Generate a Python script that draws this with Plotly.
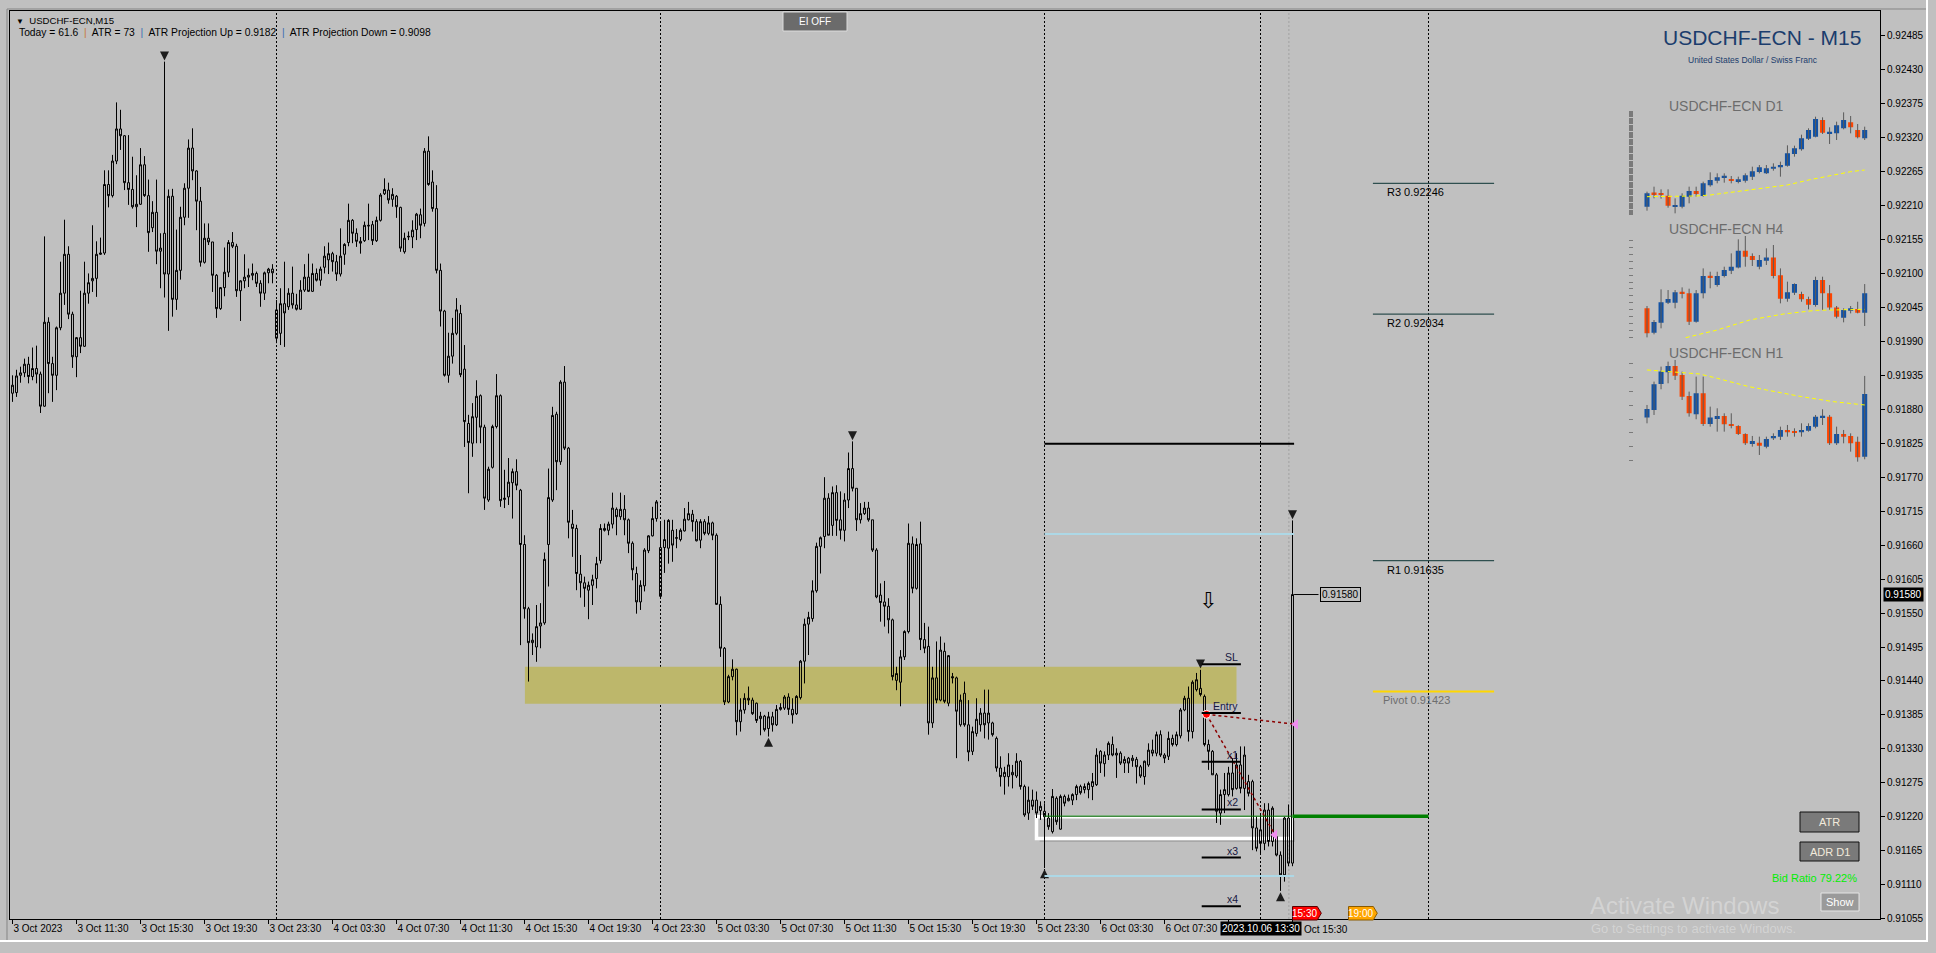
import numpy as np
import plotly.graph_objects as go

# ---------------- page / plot geometry ----------------
BG = "#c0c0c0"
W, H = 1936, 953
ML, MR, MT, MB = 10, 56, 11, 34
PW, PH = W - ML - MR, H - MT - MB
PT = 1e-5  # one point of price


def px(x):
    return (x - ML) / PW


def py(y):
    return (H - MB - y) / PH


# ---------------- USDCHF-ECN M15 bars (points, 1e-5) ----------------
# bar 0 = 3 Oct 2023 07:30, bar 320 = 6 Oct 2023 15:30
bar_open = [
    91906, 91907, 91935, 91939, 91953, 91933, 91946, 91937, 91885, 92021, 91954, 91935, 92012, 92068, 92131, 92034,
    91965, 91996, 91982, 92068, 92088, 92092, 92131, 92133, 92244, 92226, 92282, 92334, 92323, 92247, 92236, 92208,
    92212, 92276, 92226, 92174, 92199, 92136, 92165, 92099, 92225, 92058, 92105, 92191, 92238, 92303, 92266, 92217,
    92118, 92157, 92151, 92097, 92043, 92077, 92102, 92150, 92144, 92072, 92088, 92094, 92097, 92100, 92084, 92068,
    92101, 92107, 92041, 92003, 92051, 92046, 92068, 92049, 92042, 92073, 92094, 92071, 92100, 92089, 92110, 92122,
    92132, 92119, 92099, 92131, 92150, 92186, 92165, 92152, 92153, 92178, 92179, 92153, 92186, 92229, 92235, 92220,
    92225, 92207, 92135, 92159, 92159, 92171, 92195, 92181, 92298, 92248, 92205, 92105, 92039, 91935, 91966, 92003,
    92035, 91945, 91857, 91825, 91867, 91902, 91851, 91733, 91786, 91852, 91902, 91734, 91738, 91761, 91779, 91749,
    91661, 91557, 91502, 91495, 91529, 91534, 91661, 91733, 91872, 91795, 91924, 91817, 91694, 91687, 91613, 91599,
    91587, 91595, 91606, 91635, 91687, 91684, 91694, 91718, 91706, 91718, 91701, 91663, 91614, 91568, 91594, 91651,
    91675, 91703, 91656, 91656, 91655, 91684, 91671, 91669, 91683, 91701, 91710, 91698, 91668, 91698, 91679, 91696,
    91676, 91564, 91493, 91406, 91447, 91459, 91374, 91393, 91412, 91409, 91404, 91379, 91383, 91363, 91382, 91369,
    91394, 91396, 91414, 91394, 91387, 91413, 91472, 91532, 91541, 91586, 91658, 91674, 91736, 91692, 91745, 91701,
    91684, 91733, 91784, 91752, 91701, 91711, 91720, 91701, 91652, 91579, 91568, 91561, 91539, 91441, 91438, 91479,
    91520, 91662, 91590, 91662, 91507, 91496, 91372, 91445, 91409, 91488, 91404, 91447, 91445, 91369, 91420, 91369,
    91326, 91355, 91369, 91388, 91372, 91372, 91347, 91299, 91285, 91285, 91292, 91286, 91310, 91269, 91226, 91247,
    91247, 91230, 91229, 91218, 91196, 91250, 91200, 91253, 91246, 91247, 91256, 91269, 91264, 91264, 91269, 91272,
    91326, 91306, 91320, 91337, 91320, 91323, 91307, 91315, 91311, 91313, 91301, 91285, 91304, 91328, 91323, 91353,
    91320, 91318, 91347, 91337, 91351, 91393, 91412, 91358, 91426, 91428, 91415, 91337, 91326, 91288, 91226, 91256,
    91256, 91291, 91266, 91304, 91266, 91277, 91277, 91202, 91177, 91177, 91231, 91180, 91188, 91158, 91126, 91218,
    91145,
]
bar_high = [
    91935, 91944, 91949, 91962, 91965, 91980, 91983, 91941, 92160, 92029, 91965, 92014, 92119, 92187, 92144, 92038,
    91997, 92072, 92119, 92100, 92178, 92152, 92158, 92267, 92267, 92292, 92377, 92365, 92324, 92324, 92289, 92259,
    92303, 92290, 92252, 92217, 92252, 92165, 92443, 92236, 92237, 92171, 92208, 92246, 92317, 92335, 92267, 92240,
    92181, 92181, 92151, 92099, 92078, 92142, 92154, 92167, 92148, 92089, 92131, 92108, 92116, 92103, 92089, 92103,
    92109, 92115, 92057, 92076, 92119, 92076, 92111, 92067, 92089, 92115, 92132, 92116, 92108, 92111, 92144, 92150,
    92135, 92130, 92173, 92149, 92213, 92188, 92173, 92159, 92184, 92213, 92185, 92192, 92230, 92254, 92247, 92238,
    92227, 92208, 92166, 92168, 92186, 92198, 92205, 92303, 92322, 92267, 92243, 92116, 92041, 92004, 92028, 92060,
    92049, 91984, 91871, 91890, 91927, 91904, 91855, 91787, 91855, 91937, 91904, 91782, 91801, 91784, 91799, 91751,
    91676, 91560, 91517, 91563, 91566, 91648, 91784, 91884, 91876, 91927, 91950, 91819, 91717, 91693, 91644, 91609,
    91601, 91612, 91641, 91694, 91695, 91698, 91745, 91721, 91745, 91741, 91703, 91666, 91625, 91603, 91655, 91676,
    91722, 91733, 91698, 91701, 91702, 91701, 91686, 91687, 91720, 91730, 91717, 91702, 91702, 91702, 91707, 91698,
    91679, 91577, 91495, 91450, 91475, 91460, 91412, 91420, 91431, 91413, 91405, 91390, 91385, 91390, 91390, 91401,
    91404, 91417, 91420, 91412, 91417, 91474, 91541, 91552, 91603, 91664, 91674, 91770, 91744, 91755, 91757, 91747,
    91744, 91810, 91828, 91752, 91728, 91730, 91730, 91701, 91655, 91598, 91602, 91574, 91541, 91463, 91490, 91522,
    91695, 91674, 91671, 91698, 91534, 91528, 91463, 91504, 91512, 91502, 91482, 91453, 91447, 91418, 91439, 91409,
    91366, 91412, 91396, 91426, 91426, 91374, 91350, 91318, 91301, 91323, 91304, 91323, 91312, 91272, 91269, 91264,
    91261, 91245, 91242, 91226, 91265, 91253, 91256, 91256, 91256, 91258, 91272, 91272, 91274, 91277, 91291, 91331,
    91328, 91326, 91342, 91350, 91331, 91326, 91318, 91317, 91320, 91317, 91304, 91311, 91339, 91345, 91358, 91360,
    91323, 91358, 91353, 91358, 91396, 91416, 91431, 91441, 91453, 91458, 91418, 91345, 91328, 91291, 91264, 91291,
    91301, 91315, 91323, 91334, 91334, 91288, 91280, 91220, 91223, 91242, 91242, 91237, 91193, 91164, 91220, 91240,
    91700,
]
bar_low = [
    91892, 91900, 91923, 91932, 91922, 91927, 91922, 91874, 91884, 91906, 91892, 91911, 92008, 92049, 92026, 91947,
    91932, 91971, 91981, 92051, 92070, 92062, 92130, 92130, 92207, 92223, 92277, 92300, 92235, 92211, 92205, 92175,
    92211, 92224, 92135, 92167, 92115, 92076, 92061, 92007, 92030, 92041, 92090, 92178, 92190, 92251, 92170, 92111,
    92116, 92146, 92070, 92028, 92041, 92063, 92094, 92141, 92062, 92023, 92076, 92078, 92089, 92078, 92046, 92057,
    92084, 92084, 91987, 91984, 91981, 92041, 92043, 92040, 92041, 92070, 92070, 92070, 92087, 92080, 92100, 92099,
    92103, 92088, 92095, 92114, 92144, 92149, 92143, 92132, 92151, 92154, 92146, 92151, 92184, 92227, 92213, 92208,
    92190, 92135, 92132, 92154, 92141, 92154, 92157, 92176, 92242, 92200, 92100, 92014, 91933, 91923, 91954, 92000,
    91932, 91819, 91744, 91803, 91825, 91825, 91717, 91730, 91784, 91849, 91722, 91720, 91725, 91703, 91749, 91498,
    91541, 91439, 91482, 91471, 91493, 91531, 91593, 91730, 91749, 91790, 91814, 91671, 91641, 91587, 91575, 91560,
    91540, 91563, 91590, 91630, 91682, 91676, 91687, 91676, 91701, 91676, 91647, 91603, 91549, 91555, 91585, 91647,
    91674, 91698, 91576, 91615, 91630, 91633, 91655, 91666, 91682, 91700, 91682, 91666, 91655, 91676, 91676, 91668,
    91563, 91479, 91401, 91404, 91441, 91352, 91358, 91387, 91401, 91385, 91372, 91352, 91358, 91350, 91358, 91367,
    91392, 91393, 91385, 91371, 91385, 91410, 91436, 91482, 91536, 91583, 91614, 91655, 91676, 91675, 91675, 91669,
    91666, 91720, 91747, 91683, 91695, 91709, 91698, 91649, 91574, 91536, 91528, 91517, 91441, 91425, 91399, 91474,
    91517, 91582, 91588, 91490, 91485, 91353, 91364, 91404, 91407, 91404, 91399, 91436, 91315, 91366, 91366, 91310,
    91320, 91350, 91358, 91347, 91345, 91350, 91293, 91269, 91256, 91269, 91266, 91283, 91264, 91220, 91215, 91231,
    91218, 91215, 91137, 91199, 91193, 91207, 91199, 91237, 91245, 91239, 91247, 91256, 91258, 91250, 91247, 91270,
    91291, 91285, 91312, 91318, 91283, 91304, 91291, 91291, 91301, 91274, 91283, 91272, 91301, 91318, 91318, 91317,
    91307, 91312, 91334, 91334, 91347, 91391, 91342, 91347, 91423, 91415, 91334, 91296, 91288, 91210, 91207, 91226,
    91253, 91253, 91264, 91258, 91231, 91253, 91166, 91164, 91161, 91166, 91172, 91172, 91156, 91100, 91115, 91140,
    91140,
]
bar_close = [
    91919, 91934, 91939, 91953, 91933, 91946, 91937, 91885, 92021, 91954, 91935, 92012, 92068, 92131, 92034, 91965,
    91996, 91982, 92068, 92085, 92092, 92131, 92133, 92244, 92226, 92282, 92334, 92323, 92247, 92236, 92208, 92212,
    92276, 92226, 92166, 92199, 92136, 92141, 92099, 92225, 92058, 92105, 92191, 92238, 92303, 92266, 92217, 92118,
    92157, 92151, 92097, 92043, 92077, 92102, 92150, 92144, 92072, 92088, 92094, 92097, 92100, 92084, 92068, 92101,
    92107, 92101, 91995, 92051, 92036, 92068, 92049, 92042, 92073, 92094, 92071, 92100, 92089, 92107, 92128, 92132,
    92119, 92099, 92128, 92147, 92186, 92165, 92152, 92149, 92178, 92177, 92153, 92186, 92227, 92236, 92219, 92228,
    92208, 92141, 92157, 92160, 92170, 92196, 92178, 92298, 92244, 92205, 92105, 92039, 91935, 91966, 92003, 92041,
    91936, 91860, 91826, 91868, 91901, 91851, 91736, 91783, 91852, 91902, 91732, 91736, 91762, 91779, 91757, 91661,
    91557, 91502, 91506, 91528, 91534, 91637, 91737, 91870, 91795, 91924, 91817, 91697, 91687, 91614, 91599, 91590,
    91595, 91604, 91630, 91687, 91684, 91694, 91720, 91706, 91718, 91701, 91663, 91620, 91568, 91595, 91652, 91675,
    91703, 91730, 91577, 91669, 91700, 91660, 91672, 91684, 91702, 91711, 91698, 91667, 91698, 91679, 91696, 91676,
    91564, 91493, 91406, 91447, 91459, 91374, 91393, 91412, 91409, 91387, 91376, 91383, 91361, 91382, 91369, 91394,
    91397, 91414, 91394, 91385, 91415, 91472, 91532, 91543, 91586, 91658, 91672, 91736, 91676, 91745, 91700, 91684,
    91733, 91784, 91752, 91701, 91711, 91720, 91701, 91652, 91576, 91567, 91561, 91539, 91447, 91452, 91479, 91520,
    91663, 91590, 91661, 91507, 91493, 91372, 91445, 91409, 91490, 91407, 91481, 91445, 91391, 91409, 91369, 91325,
    91358, 91378, 91388, 91369, 91388, 91353, 91299, 91285, 91292, 91304, 91288, 91310, 91269, 91223, 91247, 91237,
    91226, 91237, 91220, 91204, 91253, 91212, 91253, 91242, 91250, 91256, 91269, 91259, 91269, 91274, 91277, 91320,
    91307, 91320, 91339, 91320, 91323, 91307, 91313, 91307, 91315, 91301, 91286, 91310, 91328, 91323, 91353, 91320,
    91315, 91347, 91337, 91353, 91393, 91412, 91358, 91438, 91442, 91418, 91337, 91326, 91288, 91229, 91256, 91264,
    91291, 91264, 91304, 91266, 91320, 91258, 91202, 91169, 91199, 91231, 91180, 91234, 91158, 91126, 91218, 91145,
    91580,
]

# time axis labels every 16 bars; the last two sit under the crosshair date box
time_labels = [
    "3 Oct 2023", "3 Oct 11:30", "3 Oct 15:30", "3 Oct 19:30", "3 Oct 23:30",
    "4 Oct 03:30", "4 Oct 07:30", "4 Oct 11:30", "4 Oct 15:30", "4 Oct 19:30", "4 Oct 23:30",
    "5 Oct 03:30", "5 Oct 07:30", "5 Oct 11:30", "5 Oct 15:30", "5 Oct 19:30", "5 Oct 23:30",
    "6 Oct 03:30", "6 Oct 07:30", "", "",
]
partial_label = "Oct 15:30"

# objects on the chart (bar index / price)
day_separators = [66, 162, 258, 354]
crosshair_bar = 312
fractal_high_bars = [38, 210, 297, 320]
fractal_low_bars = [189, 258, 317]
zone_bars = [128.1, 306.0]
zone_prices = [0.91403, 0.91463]
box_bars = [256.0, 319.8]
box_prices = [0.91185, 0.91220]
green_level = 0.91221
prev_high_level = 0.91824
range_levels = [0.91678, 0.91124]
pivot_names = ["R3", "R2", "R1", "Pivot"]
pivot_levels = [0.92246, 0.92034, 0.91635, 0.91423]
trade_names = ["SL", "Entry", "x1", "x2", "x3", "x4"]
trade_levels = [0.91467, 0.91388, 0.91309, 0.91232, 0.91154, 0.91075]
entry_bar, entry_price = 298.5, 0.91386
target_bars = [320.8, 315.6]
target_prices = [0.91370, 0.91191]
signal_bar, signal_price = 298.9, 0.91571
last_price = 0.91580
tag_bars = [320, 334]
tag_texts = ["15:30", "19:00"]
tag_colors = ["#ff0000", "#ffa500"]

# ---------------- mini charts (points, 1e-5) ----------------
d1_open = [87831, 88499, 88499, 88369, 87831, 87831, 88320, 88597, 88353, 88874, 89102, 89265, 89168, 89037, 89102, 89298,
           89526, 89461, 89689, 89753, 89836, 90406, 90635, 91156, 91254, 92069, 91417, 91417, 91662, 91955, 91580, 91172]
d1_high = [88565, 88809, 88679, 88679, 88238, 88483, 88809, 88809, 89054, 89510, 89461, 89461, 89331, 89298, 89461, 89787,
           89869, 89869, 89950, 90032, 90830, 90814, 91352, 91662, 92232, 92199, 91711, 91988, 92444, 92265, 91873, 91743]
d1_low = [87635, 88238, 88222, 87782, 87505, 87750, 87994, 88320, 88320, 88809, 88972, 89005, 88972, 88972, 89005, 89135,
          89461, 89428, 89591, 89298, 89787, 90276, 90569, 91091, 91221, 91384, 90896, 91091, 91613, 91417, 91172, 91091]
d1_close = [88483, 88450, 88402, 87880, 87912, 88369, 88597, 88450, 88972, 89135, 89265, 89331, 89102, 89168, 89363, 89559,
            89753, 89705, 89787, 89869, 90439, 90684, 91172, 91580, 92118, 91450, 91466, 91809, 92069, 91711, 91221, 91580]
d1_ma_x = [0, 7, 9, 12, 17, 20, 23, 26, 29, 31]
d1_ma = [88320, 88353, 88402, 88532, 88728, 88891, 89135, 89347, 89542, 89624]

h4_open = [91342, 90955, 91114, 91432, 91432, 91601, 91580, 91130, 91580, 91861, 91712, 91856, 91940, 91993, 92258, 92174,
           92004, 92099, 92152, 91866, 91495, 91591, 91569, 91490, 91395, 91792, 91580, 91357, 91193, 91304, 91331, 91273]
h4_high = [91379, 91156, 91644, 91633, 91633, 91675, 91654, 91633, 91977, 91924, 91924, 92004, 92216, 92439, 92492, 92216,
           92190, 92296, 92349, 91977, 91766, 91739, 91606, 91527, 91845, 91845, 91712, 91379, 91342, 91379, 91447, 91728]
h4_low = [90880, 90928, 91024, 91410, 91342, 91500, 91077, 91114, 91500, 91660, 91686, 91834, 91887, 91977, 92004, 92015,
          91962, 92031, 91818, 91421, 91447, 91554, 91447, 91326, 91368, 91315, 91315, 91182, 91119, 91262, 91262, 91061]
h4_close = [90944, 91124, 91437, 91490, 91596, 91580, 91130, 91580, 91856, 91834, 91856, 91951, 92004, 92258, 92163, 92110,
            92110, 92152, 91856, 91495, 91596, 91728, 91485, 91400, 91792, 91580, 91357, 91209, 91315, 91342, 91273, 91580]
h4_ma_x = [5.5, 10, 14.6, 19.4, 24.1, 31]
h4_ma = [90875, 90997, 91156, 91251, 91310, 91326]

h1_open = [91410, 91465, 91652, 91736, 91782, 91717, 91566, 91434, 91585, 91364, 91400, 91422, 91364, 91350, 91292, 91220,
           91230, 91201, 91261, 91273, 91321, 91309, 91304, 91316, 91345, 91412, 91417, 91225, 91292, 91278, 91237, 91129]
h1_high = [91501, 91669, 91777, 91813, 91825, 91741, 91597, 91705, 91705, 91489, 91477, 91441, 91441, 91355, 91297, 91278,
           91273, 91273, 91297, 91345, 91357, 91333, 91369, 91369, 91429, 91470, 91429, 91345, 91321, 91297, 91273, 91710]
h1_low = [91369, 91429, 91614, 91657, 91681, 91537, 91417, 91398, 91350, 91345, 91309, 91309, 91333, 91285, 91213, 91201,
          91141, 91189, 91249, 91249, 91273, 91273, 91273, 91309, 91333, 91357, 91213, 91213, 91225, 91165, 91093, 91110]
h1_close = [91472, 91650, 91741, 91782, 91712, 91561, 91441, 91585, 91364, 91410, 91422, 91362, 91350, 91292, 91225, 91242,
            91208, 91256, 91278, 91321, 91304, 91302, 91321, 91350, 91417, 91422, 91225, 91292, 91273, 91225, 91124, 91580]
h1_ma_x = [0, 5, 7.5, 10, 12.5, 14.5, 17, 19.5, 22, 26.5, 31]
h1_ma = [91753, 91734, 91724, 91693, 91662, 91633, 91609, 91585, 91561, 91525, 91501]

# ---------------- figure ----------------
fig = go.Figure()
n = len(bar_close)
bars = np.arange(n)
hollow = dict(line=dict(color="#000000", width=1), fillcolor="rgba(0,0,0,0)")
fig.add_trace(go.Candlestick(
    x=bars,
    open=np.array(bar_open) * PT, high=np.array(bar_high) * PT,
    low=np.array(bar_low) * PT, close=np.array(bar_close) * PT,
    increasing=hollow, decreasing=hollow, whiskerwidth=0,
    hoverinfo="skip", showlegend=False,
))

# fractal arrows (tip sits on the extreme)
fh = np.array(fractal_high_bars)
fl = np.array(fractal_low_bars)
fig.add_trace(go.Scatter(x=fh, y=np.array(bar_high)[fh] * PT + 0.00002, mode="markers",
                         marker=dict(symbol="arrow-down", size=9, color="#1c1c1c"),
                         hoverinfo="skip", showlegend=False))
fig.add_trace(go.Scatter(x=fl, y=np.array(bar_low)[fl] * PT - 0.00002, mode="markers",
                         marker=dict(symbol="arrow-up", size=9, color="#1c1c1c"),
                         hoverinfo="skip", showlegend=False))

# trade projection lines
for xb, yp in zip(target_bars, target_prices):
    fig.add_trace(go.Scatter(x=[entry_bar, xb], y=[entry_price, yp], mode="lines",
                             line=dict(color="#8b0000", width=1.5, dash="3px,3px"),
                             hoverinfo="skip", showlegend=False))
fig.add_trace(go.Scatter(x=target_bars, y=target_prices, mode="markers",
                         marker=dict(symbol="triangle-left", size=9, color="#f08cf0"),
                         hoverinfo="skip", showlegend=False))
fig.add_trace(go.Scatter(x=[entry_bar], y=[entry_price], mode="markers",
                         marker=dict(symbol="circle", size=8, color="#ff0000",
                                     line=dict(color="#ffffff", width=1)),
                         hoverinfo="skip", showlegend=False))


# mini charts
def add_mini(k, o, h, l, c, ma_x, ma_y, y_range, dom):
    o, h, l, c = (np.array(a) * PT for a in (o, h, l, c))
    idx = np.arange(len(o))
    xa, ya = f"x{k}", f"y{k}"
    wx, wy = [], []
    for i in idx:
        wx += [int(i), int(i), None]
        wy += [float(l[i]), float(h[i]), None]
    fig.add_trace(go.Scatter(x=wx, y=wy, mode="lines", line=dict(color="#5a5a5a", width=1),
                             xaxis=xa, yaxis=ya, hoverinfo="skip", showlegend=False))
    per_px = (y_range[1] - y_range[0]) / ((dom[1] - dom[0]) * PH)
    body = np.maximum(np.abs(c - o), 1.5 * per_px)
    colors = ["#1252a5" if cc >= oo else "#ff4500" for oo, cc in zip(o, c)]
    fig.add_trace(go.Bar(x=idx, y=body, base=np.minimum(o, c), width=0.72,
                         marker=dict(color=colors, line=dict(width=0)),
                         xaxis=xa, yaxis=ya, hoverinfo="skip", showlegend=False))
    fig.add_trace(go.Scatter(x=ma_x, y=np.array(ma_y) * PT, mode="lines",
                             line=dict(color="#ffff00", width=1, dash="4px,3px"),
                             xaxis=xa, yaxis=ya, hoverinfo="skip", showlegend=False))


mini_x_dom = [px(1643.5), px(1868.2)]
minis = [
    (2, d1_open, d1_high, d1_low, d1_close, d1_ma_x, d1_ma, [0.87424, 0.92558], [py(215), py(110)], 0.00057),
    (3, h4_open, h4_high, h4_low, h4_close, h4_ma_x, h4_ma, [0.90870, 0.92508], [py(338), py(235)], 0.0011),
    (4, h1_open, h1_high, h1_low, h1_close, h1_ma_x, h1_ma, [0.91069, 0.91839], [py(465), py(358)], 0.001),
]
for k, o, h, l, c, mx, my, yr, dom, dt in minis:
    add_mini(k, o, h, l, c, mx, my, yr, dom)
    fig.update_layout({
        f"xaxis{k}": dict(domain=mini_x_dom, range=[-0.5, 31.5], visible=False, fixedrange=True, anchor=f"y{k}"),
        f"yaxis{k}": dict(domain=dom, range=yr, anchor="free", position=px(1633), side="left",
                          showticklabels=False, ticks="outside", ticklen=4, tickcolor="#7a7a7a",
                          tick0=0.9, dtick=dt, showgrid=False, zeroline=False, showline=False,
                          fixedrange=True),
    })

# ---------------- shapes ----------------
shapes = []
for b in day_separators + [crosshair_bar]:
    shapes.append(dict(type="line", xref="x", yref="paper", x0=b, x1=b, y0=0, y1=1, layer="below",
                       line=dict(color="#000000", width=1, dash="2px,2px")))
shapes.append(dict(type="line", xref="x", yref="paper", x0=319.1, x1=319.1, y0=0, y1=1, layer="below",
                   line=dict(color="#a2a2a2", width=1, dash="2px,2px")))
shapes.append(dict(type="rect", xref="x", yref="y", x0=zone_bars[0], x1=zone_bars[1],
                   y0=zone_prices[0], y1=zone_prices[1], fillcolor="#bdb76b", line=dict(width=0), layer="below"))
# white box with soft shadow
shapes.append(dict(type="rect", xref="x", yref="y", x0=box_bars[0] + 0.8, x1=box_bars[1] + 0.8,
                   y0=box_prices[0] - 0.00006, y1=box_prices[1] - 0.00006,
                   fillcolor="rgba(90,90,90,0.25)", line=dict(width=0), layer="below"))
shapes.append(dict(type="rect", xref="x", yref="y", x0=box_bars[0], x1=box_bars[1],
                   y0=box_prices[0], y1=box_prices[1], fillcolor=BG,
                   line=dict(color="#ffffff", width=3.5), layer="below"))
shapes.append(dict(type="line", xref="x", yref="y", x0=258, x1=320, y0=green_level, y1=green_level,
                   line=dict(color="#006400", width=1.2)))
shapes.append(dict(type="line", xref="x", yref="y", x0=320, x1=354, y0=green_level, y1=green_level,
                   line=dict(color="#008000", width=3.5)))
shapes.append(dict(type="line", xref="x", yref="y", x0=258, x1=320.4, y0=prev_high_level, y1=prev_high_level,
                   line=dict(color="#000000", width=2)))
for lv in range_levels:
    shapes.append(dict(type="line", xref="x", yref="y", x0=258, x1=320.4, y0=lv, y1=lv,
                       line=dict(color="#add8e6", width=2)))
for name, lv in zip(pivot_names, pivot_levels):
    col = "#ffd700" if name == "Pivot" else "#2f4f4f"
    shapes.append(dict(type="line", xref="x", yref="y", x0=340.1, x1=370.4, y0=lv, y1=lv,
                       line=dict(color=col, width=2 if name == "Pivot" else 1.2)))
for lv in trade_levels:
    shapes.append(dict(type="line", xref="x", yref="y", x0=297.3, x1=307.1, y0=lv, y1=lv,
                       line=dict(color="#000000", width=2)))
shapes.append(dict(type="line", xref="x", yref="y", x0=320.4, x1=326.5, y0=last_price, y1=last_price,
                   line=dict(color="#000000", width=1)))
# time tags at the bottom edge
yb, yt, ym = py(920), py(906.5), py(913.2)
for b, col in zip(tag_bars, tag_colors):
    path = f"M {b},{yb} L {b + 6.2},{yb} L {b + 7.2},{ym} L {b + 6.2},{yt} L {b},{yt} Z"
    shapes.append(dict(type="path", xref="x", yref="paper", path=path, fillcolor=col,
                       line=dict(color="#5a0000" if col == "#ff0000" else "#8a5a00", width=1)))
# EI OFF button
shapes.append(dict(type="rect", xref="paper", yref="paper", x0=px(783), x1=px(847), y0=py(31), y1=py(12),
                   fillcolor="#6b6b6b", line=dict(color="#dcdcdc", width=1)))
# bottom right buttons
for y0, y1 in [(812, 832), (842, 861)]:
    shapes.append(dict(type="rect", xref="paper", yref="paper", x0=px(1800), x1=px(1859), y0=py(y1), y1=py(y0),
                       fillcolor="#7a7a7a", line=dict(color="#101010", width=1)))
shapes.append(dict(type="rect", xref="paper", yref="paper", x0=px(1821), x1=px(1859), y0=py(911), y1=py(893),
                   fillcolor="#9a9a9a", line=dict(color="#e4e4e4", width=1)))
# window frame
shapes.append(dict(type="line", xref="paper", yref="paper", x0=px(7), x1=px(1927), y0=py(9), y1=py(9),
                   line=dict(color="#858585", width=1)))
shapes.append(dict(type="line", xref="paper", yref="paper", x0=px(7), x1=px(7), y0=py(9), y1=py(941),
                   line=dict(color="#858585", width=1)))
shapes.append(dict(type="line", xref="paper", yref="paper", x0=px(1927), x1=px(1927), y0=py(0), y1=py(942),
                   line=dict(color="#ffffff", width=2)))
shapes.append(dict(type="line", xref="paper", yref="paper", x0=px(0), x1=px(1928), y0=py(941), y1=py(941),
                   line=dict(color="#ffffff", width=2)))

# ---------------- annotations ----------------
ann = []


def note(text, x, y, xref="paper", yref="paper", size=10, color="#000000", xa="left", ya="middle", **kw):
    ann.append(dict(text=text, x=x, y=y, xref=xref, yref=yref, showarrow=False, xanchor=xa, yanchor=ya,
                    font=dict(size=size, color=color, family=kw.pop("family", "Liberation Sans, Arial, sans-serif")),
                    **kw))


note("<span style='font-size:8px'>▼</span>\u00a0 USDCHF-ECN,M15", px(14), py(20), size=9.6)
sep1 = "<span style='color:#c8782d'>|</span>"
sep2 = "<span style='color:#3a6cb4'>|</span>"
note("Today = 61.6 \u00a0" + sep1 + "\u00a0 ATR = 73 \u00a0" + sep2 + "\u00a0 ATR Projection Up = 0.9182 \u00a0" + sep2
     + "\u00a0 ATR Projection Down = 0.9098", px(17), py(33), size=10.3)
note("EI OFF", px(815), py(21.5), size=10, color="#ffffff", xa="center")

note("USDCHF-ECN - M15", px(1762), py(38), size=21, color="#1b3d6d", xa="center")
note("United States Dollar / Swiss Franc", px(1753), py(60), size=8.5, color="#1b3d6d", xa="center")
for txt, yy in [("USDCHF-ECN D1", 106), ("USDCHF-ECN H4", 229), ("USDCHF-ECN H1", 353)]:
    note(txt, px(1726), py(yy), size=14, color="#6c6c6c", xa="center")

for name, lv in zip(pivot_names, pivot_levels):
    if name == "Pivot":
        note(f"Pivot {lv:.5f}", 342.0, lv, xref="x", yref="y", size=11, color="#6e6e6e", ya="top", yshift=-1)
    else:
        note(f"{name} {lv:.5f}", 343.2, lv, xref="x", yref="y", size=11, ya="top", yshift=-1)
for name, lv in zip(trade_names, trade_levels):
    note(name, 306.9, lv, xref="x", yref="y", size=10.5, color="#16163e", xa="right", ya="bottom", yshift=-1)

note("⇩", signal_bar, signal_price, xref="x", yref="y", size=22, xa="center", family="DejaVu Sans")
note(f"{last_price:.5f}", 332.0, last_price, xref="x", yref="y", size=10, xa="center",
     bordercolor="#000000", borderwidth=1, borderpad=1)
note(f"{last_price:.5f}", px(1883), last_price, yref="y", size=10, color="#ffffff",
     bgcolor="#000000", borderpad=1)
note("2023.10.06 13:30", crosshair_bar, py(928.5), xref="x", size=10, color="#ffffff", xa="center",
     bgcolor="#000000", borderpad=1)
note(partial_label, px(1302), py(929.5), size=10)
for b, t in zip(tag_bars, tag_texts):
    note(t, b + 3.1, py(913.2), xref="x", size=10, color="#ffffff", xa="center")

note("ATR", px(1829.5), py(822), size=11, color="#f2eadc", xa="center")
note("ADR D1", px(1829.5), py(851.5), size=11, color="#f2eadc", xa="center")
note("Bid Ratio 79.22%", px(1859), py(878), size=11, color="#00ee00", xa="right")
note("Show", px(1840), py(902), size=11, color="#ffffff", xa="center")
note("Activate Windows", px(1588), py(905), size=24, color="rgba(255,255,255,0.32)")
note("Go to Settings to activate Windows.", px(1589), py(928), size=13, color="rgba(255,255,255,0.32)")

# ---------------- layout ----------------
fig.update_layout(
    width=W, height=H,
    margin=dict(l=ML, r=MR, t=MT, b=MB, pad=0),
    paper_bgcolor=BG, plot_bgcolor=BG,
    font=dict(family="Liberation Sans, Arial, sans-serif", size=10, color="#000000"),
    showlegend=False, boxgap=0.3,
    shapes=shapes, annotations=ann,
    xaxis=dict(
        domain=[0, 1], range=[-0.625, 466.875], rangeslider=dict(visible=False),
        tickmode="array", tickvals=list(range(0, 16 * len(time_labels), 16)), ticktext=time_labels,
        ticks="outside", ticklen=4, tickcolor="#000000", ticklabelposition="outside right",
        tickfont=dict(size=10), showline=True, linecolor="#000000", linewidth=1, mirror=True,
        showgrid=False, zeroline=False, fixedrange=True,
    ),
    yaxis=dict(
        domain=[0, 1], side="right", range=[0.910545, 0.92525],
        tick0=0.91055, dtick=0.00055, tickformat=".5f",
        ticks="outside", ticklen=4, tickcolor="#000000", tickfont=dict(size=10),
        showline=True, linecolor="#000000", linewidth=1, mirror=True,
        showgrid=False, zeroline=False, fixedrange=True,
    ),
)

fig.write_html("out.html", config={"displayModeBar": False},
               post_script="document.body.style.margin='0';document.body.style.overflow='hidden';")
